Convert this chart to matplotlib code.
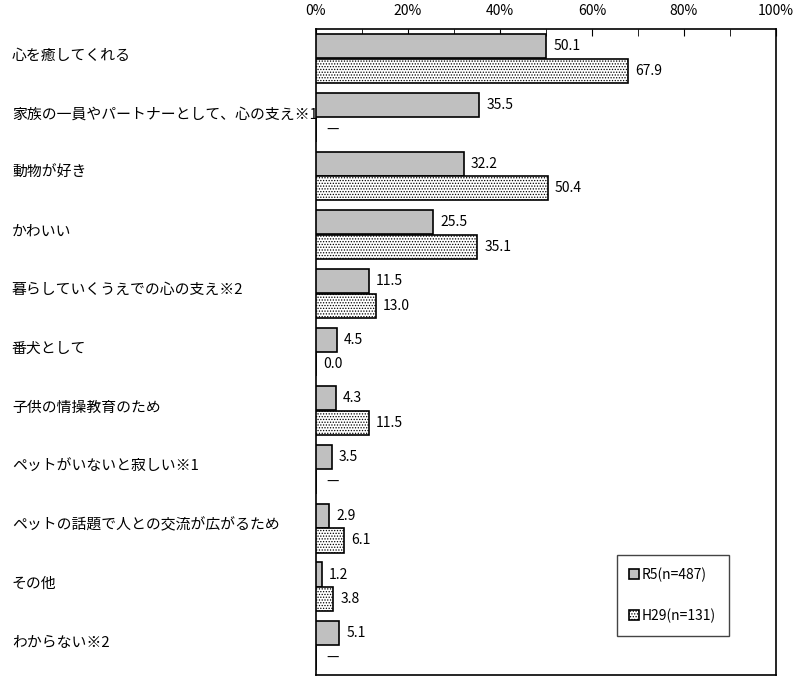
import numpy as np
import matplotlib
matplotlib.use("Agg")
import matplotlib.pyplot as plt
from matplotlib.ticker import MultipleLocator, FuncFormatter

plt.rcParams['font.family'] = ['Noto Sans CJK JP', 'DejaVu Sans']
plt.rcParams['hatch.linewidth'] = 0.6

categories = [
    "心を癒してくれる",
    "家族の一員やパートナーとして、心の支え※1",
    "動物が好き",
    "かわいい",
    "暮らしていくうえでの心の支え※2",
    "番犬として",
    "子供の情操教育のため",
    "ペットがいないと寂しい※1",
    "ペットの話題で人との交流が広がるため",
    "その他",
    "わからない※2",
]
r5 = [50.1, 35.5, 32.2, 25.5, 11.5, 4.5, 4.3, 3.5, 2.9, 1.2, 5.1]
h29 = [67.9, np.nan, 50.4, 35.1, 13.0, 0.0, 11.5, np.nan, 6.1, 3.8, np.nan]
series_labels = ["R5(n=487)", "H29(n=131)"]

fig = plt.figure(figsize=(8, 6.81), dpi=100)
ax = fig.add_axes([0.395, 0.009, 0.575, 0.948])

y = np.arange(len(categories))
bh = 0.41
off = 0.21

ax.barh(y - off, r5, height=bh, color="#c0c0c0", edgecolor="black",
        linewidth=1.2, label=series_labels[0], zorder=3)
h29_vals = np.nan_to_num(h29)
ax.barh(y + off, h29_vals, height=bh, color="white", edgecolor="black",
        hatch="......", linewidth=1.2, label=series_labels[1], zorder=3)

for i, v in enumerate(r5):
    ax.text(v + 1.5, i - off, f"{v:.1f}", va="center", ha="left", fontsize=10)
for i, v in enumerate(h29):
    if np.isnan(v):
        ax.text(2.3, i + off, "—", va="center", ha="left", fontsize=10)
    else:
        ax.text(v + 1.5, i + off, f"{v:.1f}", va="center", ha="left", fontsize=10)

# category labels, left aligned at the figure edge
for i, c in enumerate(categories):
    ax.text(-0.661, i - 0.05, c, transform=ax.get_yaxis_transform(),
            ha="left", va="center", fontsize=10.7, zorder=1)

ax.set_xlim(0, 100)
ax.set_ylim(len(categories) - 0.5, -0.5)
ax.set_yticks([])
ax.xaxis.tick_top()
ax.xaxis.set_major_locator(MultipleLocator(20))
ax.xaxis.set_minor_locator(MultipleLocator(10))
ax.xaxis.set_major_formatter(FuncFormatter(lambda v, p: f"{v:.0f}%"))
ax.tick_params(axis="x", which="both", direction="in", length=5,
               labelsize=10, pad=8)
for s in ax.spines.values():
    s.set_linewidth(1.2)

leg = ax.legend(loc="lower left", bbox_to_anchor=(0.639, 0.05),
                fontsize=10, handlelength=0.7, handleheight=0.7,
                handletextpad=0.2, labelspacing=1.9, borderpad=0.9,
                fancybox=False, edgecolor="#444444", framealpha=1)
leg.get_frame().set_linewidth(1.0)

fig.savefig("out.png", dpi=100)
